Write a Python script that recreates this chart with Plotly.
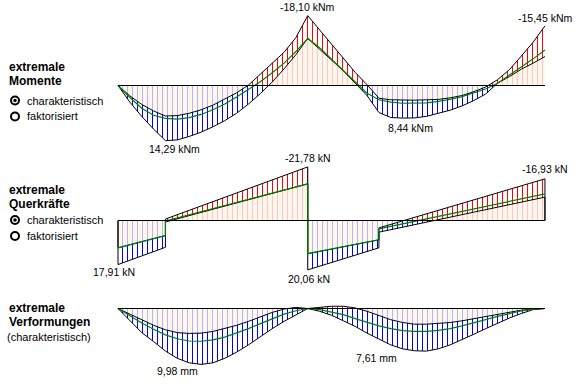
import plotly.graph_objects as go

W, H = 579, 386
FONT = "Liberation Sans, Arial, sans-serif"

# ---------------- data ----------------
# stations along the beam [m]  (span 1: 0-4 m, span 2: 4-9 m)
x_st = [0.0, 0.25, 0.5, 0.75, 1.0, 1.25, 1.5, 1.75, 2.0, 2.25, 2.5, 2.75, 3.0, 3.25, 3.5, 3.75, 4.0,
        4.25, 4.5, 4.75, 5.0, 5.25, 5.5, 5.75, 6.0, 6.25, 6.5, 6.75, 7.0, 7.25, 7.5, 7.75, 8.0,
        8.25, 8.5, 8.75, 9.0]

# bending moments [kNm]
m_max = [0, 4.3, 8.0, 11.3, 14.29, 14.1, 13.2, 12.1, 10.7, 9.1, 7.2, 4.8, 2.1, -0.9, -4.3, -8.0, -12.2,
         -9.4, -6.6, -3.8, -0.6, 2.6, 7.0, 8.3, 8.44, 8.4, 8.0, 7.2, 6.4, 5.3, 3.9, 2.2, -0.6,
         -2.3, -4.2, -5.8, -7.5]
m_min = [0, 2.7, 4.9, 6.6, 7.9, 7.8, 7.2, 6.3, 5.1, 3.6, 1.9, -0.1, -2.9, -5.7, -8.6, -12.4, -18.1,
         -14.4, -10.7, -7.2, -3.4, -0.2, 3.3, 3.7, 3.8, 3.8, 3.7, 3.6, 3.2, 2.6, 1.6, 0.4, -1.5,
         -4.1, -7.6, -11.2, -15.45]
m_green = [0, 3.1, 5.9, 7.7, 8.5, 8.7, 8.3, 7.5, 6.3, 4.8, 3.0, 1.1, -1.0, -3.3, -5.8, -8.8, -12.2,
           -9.8, -6.8, -3.9, -0.8, 2.0, 3.7, 4.3, 4.6, 4.6, 4.5, 4.1, 3.6, 2.9, 2.0, 0.9, -0.6,
           -2.6, -4.8, -6.9, -9.2]

# shear forces [kN] (piecewise linear, jumps at 1.0 m, 4.0 m, 5.5 m)
v_x = [0.0, 1.0, 1.0, 4.0, 4.0, 5.5, 5.5, 9.0]
v_max = [17.91, 10.9, 0.6, -14.9, 20.06, 11.1, 4.75, -9.5]
v_min = [11.1, 6.1, -0.6, -21.78, 13.5, 7.85, 3.0, -16.93]
v_green = [11.1, 6.1, 0.2, -14.9, 13.5, 7.85, 3.4, -10.8]

# deflections [mm]
w_max = [0, 2.2, 4.3, 5.9, 7.6, 8.9, 9.7, 9.98, 9.7, 8.9, 7.8, 6.5, 5.0, 3.6, 2.3, 1.1, 0,
         0.5, 1.2, 2.2, 3.2, 4.4, 5.5, 6.5, 7.2, 7.55, 7.61, 7.2, 6.5, 5.6, 4.6, 3.6, 2.6,
         1.7, 0.9, 0.2, 0]
w_min = [0, 1.0, 2.0, 3.0, 3.8, 4.3, 4.45, 4.4, 4.1, 3.6, 3.0, 2.3, 1.5, 0.7, 0.1, -0.2, 0,
         -0.2, -0.4, -0.4, -0.1, 0.5, 1.2, 2.0, 2.5, 2.8, 2.8, 2.7, 2.5, 2.2, 1.8, 1.4, 1.0,
         0.6, 0.3, 0.1, 0]
w_green = [0, 1.3, 2.6, 3.7, 4.7, 5.4, 5.8, 5.85, 5.6, 5.1, 4.4, 3.6, 2.7, 1.8, 1.0, 0.4, 0,
           0.2, 0.6, 1.1, 1.8, 2.5, 3.1, 3.6, 3.95, 4.1, 4.1, 3.9, 3.6, 3.1, 2.6, 2.0, 1.4,
           0.9, 0.45, 0.1, 0]

value_labels = ["-18,10 kNm", "-15,45 kNm", "14,29 kNm", "8,44 kNm",
                "-21,78 kN", "-16,93 kN", "17,91 kN", "20,06 kN",
                "9,98 mm", "7,61 mm"]

# ---------------- styling / layout geometry ----------------
PX_PER_M = 47.44
X_LEFT_PX = 118
STRONG_BLUE, STRONG_RED = "#0000FF", "#FF0000"
PALE_BLUE, PALE_RED = "#B4B4FF", "#FFC4C4"
CREAM = "#FFF7EC"
GREEN = "#008000"

# panel: top px, baseline px, bottom px, px per unit; axis ids (pos half, neg half, full)
panels = [
    dict(top=0, base=85.5, bot=150, s=3.86, pos="y", neg="y2", full="y7",
         xs=x_st, hi=m_max, lo=m_min, g=m_green, close=False),
    dict(top=150, base=220.5, bot=292, s=2.46, pos="y3", neg="y4", full="y8",
         xs=v_x, hi=v_max, lo=v_min, g=v_green, close=True),
    dict(top=292, base=308.5, bot=386, s=5.6, pos="y5", neg="y6", full="y9",
         xs=x_st, hi=w_max, lo=w_min, g=w_green, close=False),
]


def dom(a, b):
    return [1 - b / H, 1 - a / H]


def poly(xs, a, b):
    return list(xs) + list(xs)[::-1], list(a) + list(b)[::-1]


def pat(fg, bg):
    return dict(shape="|", fgcolor=fg, bgcolor=bg, size=5, solidity=0.2, fillmode="replace")


fig = go.Figure()
layout_axes = {}


def axname(yid):
    return "yaxis" if yid == "y" else "yaxis" + yid[1:]


for p in panels:
    top, base, bot, s = p["top"], p["base"], p["bot"], p["s"]
    layout_axes[axname(p["pos"])] = dict(domain=dom(base, bot), range=[(bot - base) / s, 0],
                                         visible=False, anchor="x", fixedrange=True)
    layout_axes[axname(p["neg"])] = dict(domain=dom(top, base), range=[0, -(base - top) / s],
                                         visible=False, anchor="x", fixedrange=True)
    layout_axes[axname(p["full"])] = dict(domain=dom(top, bot), range=[(bot - base) / s, -(base - top) / s],
                                          visible=False, anchor="x", fixedrange=True)

# fills (hatched), clipped to the half-axes
for p in panels:
    xs, hi, lo = p["xs"], p["hi"], p["lo"]
    zeros = [0] * len(xs)
    specs = [
        (p["pos"], poly(xs, zeros, lo), pat(PALE_BLUE, CREAM)),
        (p["pos"], poly(xs, lo, hi), pat(STRONG_BLUE, "white")),
        (p["neg"], poly(xs, zeros, hi), pat(PALE_RED, CREAM)),
        (p["neg"], poly(xs, lo, hi), pat(STRONG_RED, "white")),
    ]
    for yid, (px_, py_), fp in specs:
        fig.add_trace(go.Scatter(x=px_, y=py_, xaxis="x", yaxis=yid, mode="lines",
                                 line=dict(width=0), fill="toself", fillpattern=fp,
                                 hoverinfo="skip", showlegend=False))

# outlines, green curve and baseline
for p in panels:
    xs, hi, lo, g = list(p["xs"]), list(p["hi"]), list(p["lo"]), list(p["g"])
    if p["close"]:
        ox = [xs[0]] + xs + [xs[-1]]
        hi_o, lo_o = [0] + hi + [0], [0] + lo + [0]
    else:
        ox, hi_o, lo_o = xs, hi, lo
    for arr in (hi_o, lo_o):
        fig.add_trace(go.Scatter(x=ox, y=arr, xaxis="x", yaxis=p["full"], mode="lines",
                                 line=dict(color="black", width=1), hoverinfo="skip", showlegend=False))
    fig.add_trace(go.Scatter(x=xs, y=g, xaxis="x", yaxis=p["full"], mode="lines",
                             line=dict(color=GREEN, width=1.2), hoverinfo="skip", showlegend=False))
    fig.add_trace(go.Scatter(x=[x_st[0], x_st[-1]], y=[0, 0], xaxis="x", yaxis=p["full"], mode="lines",
                             line=dict(color="black", width=1), hoverinfo="skip", showlegend=False))


def ann(text, px, py, size=11, bold=False, xanchor="left"):
    return dict(text=("<b>%s</b>" % text) if bold else text, x=px / W, y=1 - py / H,
                xref="paper", yref="paper", xanchor=xanchor, yanchor="middle", showarrow=False,
                font=dict(family=FONT, size=size, color="black"))


annotations = [
    ann("extremale", 7, 67.5, 12, True), ann("Momente", 7, 81.5, 12, True),
    ann("charakteristisch", 25, 100.5), ann("faktorisiert", 25, 116.5),
    ann("extremale", 7, 189.5, 12, True), ann("Querkräfte", 7, 203.5, 12, True),
    ann("charakteristisch", 25, 220), ann("faktorisiert", 25, 236),
    ann("extremale", 7, 308, 12, True), ann("Verformungen", 7, 322, 12, True),
    ann("(charakteristisch)", 5, 337),
]
label_pos = [(307, 7), (545, 17.5), (174, 149), (410.5, 127.5),
             (307.5, 157.5), (545, 169), (114, 272), (308.5, 279),
             (177, 371), (376, 358)]
for t, (lx, ly) in zip(value_labels, label_pos):
    annotations.append(ann(t, lx, ly, 10.5, False, "center"))

shapes = []
for cy, sel in [(100.5, True), (116.5, False), (220, True), (236, False)]:
    cx = 15
    shapes.append(dict(type="circle", xref="paper", yref="paper",
                       x0=(cx - 4) / W, x1=(cx + 4) / W, y0=1 - (cy + 4) / H, y1=1 - (cy - 4) / H,
                       line=dict(color="black", width=2)))
    if sel:
        shapes.append(dict(type="circle", xref="paper", yref="paper",
                           x0=(cx - 1.8) / W, x1=(cx + 1.8) / W, y0=1 - (cy + 1.8) / H, y1=1 - (cy - 1.8) / H,
                           line=dict(color="black", width=0), fillcolor="black"))

fig.update_layout(
    width=W, height=H, margin=dict(l=0, r=0, t=0, b=0),
    paper_bgcolor="white", plot_bgcolor="rgba(0,0,0,0)",
    showlegend=False,
    xaxis=dict(domain=[0, 1], range=[-X_LEFT_PX / PX_PER_M, (W - X_LEFT_PX) / PX_PER_M],
               visible=False, fixedrange=True),
    annotations=annotations, shapes=shapes,
    **layout_axes,
)

fig.write_html("out.html", config={"displayModeBar": False, "staticPlot": True},
               post_script="document.body.style.margin='0';document.body.style.overflow='hidden';")
